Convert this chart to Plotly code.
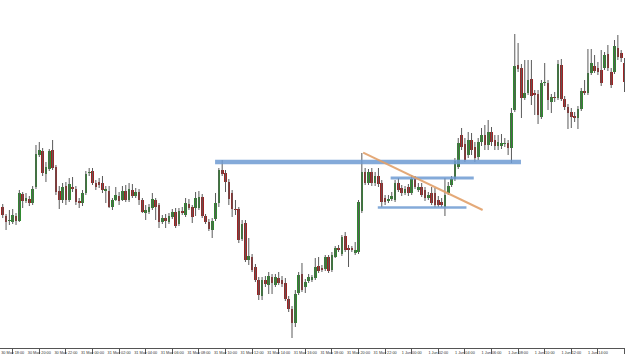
import plotly.graph_objects as go
import pandas as pd
import numpy as np

# M15 candles, first candle 30 May 17:15
opens = [1.3293,1.3284,1.3279,1.3278,1.3284,1.3279,1.3306,1.3299,1.3301,1.3297,1.3313,1.3345,1.3349,
 1.3326,1.3331,1.3350,1.3333,1.3309,1.3300,1.3314,1.3300,1.3313,1.3311,
 1.3299,1.3297,1.3307,1.3327,1.3329,1.3317,1.3318,1.3317,1.3309,1.3309,
 1.3293,1.3300,1.3304,1.3300,1.3309,1.3300,1.3310,1.3304,1.3308,1.3300,
 1.3287,1.3288,1.3292,1.3300,1.3295,1.3278,1.3282,1.3278,1.3283,1.3288,
 1.3276,1.3289,1.3285,1.3296,1.3293,1.3292,1.3292,1.3303,1.3284,1.3278,
 1.3270,1.3281,1.3297,1.3330,1.3327,1.3318,1.3307,1.3291,1.3291,1.3261,
 1.3277,1.3240,1.3243,1.3233,1.3220,1.3204,1.3220,1.3215,1.3223,1.3215,
 1.3222,1.3220,1.3217,1.3201,1.3191,1.3177,1.3207,1.3226,1.3213,1.3219,
 1.3220,1.3222,1.3234,1.3232,1.3231,1.3243,1.3230,1.3243,1.3252,1.3246,
 1.3264,1.3252,1.3252,1.3247,1.3248,1.3289,1.3328,1.3317,1.3328,1.3317,
 1.3324,1.3317,1.3302,1.3299,1.3301,1.3300,1.3317,1.3312,1.3307,1.3313,
 1.3307,1.3321,1.3310,1.3313,1.3310,1.3302,1.3307,1.3307,1.3300,1.3298,
 1.3293,1.3307,1.3315,1.3321,1.3333,1.3365,1.3356,1.3345,1.3360,1.3353,
 1.3343,1.3358,1.3365,1.3355,1.3368,1.3360,1.3354,1.3354,1.3356,1.3357,
 1.3352,1.3390,1.3435,1.3432,1.3402,1.3407,1.3421,1.3407,1.3406,1.3383,
 1.3417,1.3417,1.3398,1.3403,1.3402,1.3435,1.3401,1.3393,1.3388,1.3384,
 1.3382,1.3391,1.3409,1.3407,1.3427,1.3434,1.3432,1.3430,1.3432,1.3446,
 1.3428,1.3428,1.3452,1.3447,1.3437]

highs = [1.3296,1.3286,1.3290,1.3291,1.3287,1.3310,1.3308,1.3307,1.3304,1.3314,1.3355,1.3358,1.3352,
 1.3338,1.3351,1.3360,1.3335,1.3314,1.3317,1.3318,1.3322,1.3323,1.3314,
 1.3302,1.3310,1.3329,1.3332,1.3332,1.3320,1.3322,1.3324,1.3314,1.3314,
 1.3302,1.3313,1.3308,1.3314,1.3315,1.3317,1.3316,1.3312,1.3311,1.3302,
 1.3295,1.3296,1.3307,1.3302,1.3297,1.3285,1.3286,1.3287,1.3291,1.3292,
 1.3292,1.3293,1.3302,1.3301,1.3295,1.3308,1.3309,1.3306,1.3286,1.3281,
 1.3282,1.3307,1.3332,1.3340,1.3330,1.3321,1.3310,1.3300,1.3293,1.3280,
 1.3280,1.3262,1.3246,1.3236,1.3223,1.3223,1.3224,1.3228,1.3226,1.3226,
 1.3228,1.3224,1.3222,1.3204,1.3194,1.3210,1.3228,1.3237,1.3221,1.3226,
 1.3225,1.3242,1.3243,1.3235,1.3245,1.3245,1.3248,1.3254,1.3255,1.3265,
 1.3268,1.3255,1.3254,1.3258,1.3300,1.3347,1.3332,1.3331,1.3332,1.3328,
 1.3332,1.3320,1.3305,1.3305,1.3308,1.3320,1.3322,1.3315,1.3314,1.3316,
 1.3325,1.3324,1.3317,1.3317,1.3313,1.3308,1.3313,1.3312,1.3304,1.3302,
 1.3322,1.3318,1.3324,1.3342,1.3362,1.3372,1.3362,1.3368,1.3367,1.3358,
 1.3362,1.3372,1.3375,1.3380,1.3373,1.3365,1.3365,1.3366,1.3362,1.3360,
 1.3392,1.3466,1.3457,1.3436,1.3440,1.3440,1.3440,1.3410,1.3410,1.3420,
 1.3437,1.3420,1.3406,1.3408,1.3440,1.3441,1.3404,1.3396,1.3392,1.3388,
 1.3394,1.3412,1.3420,1.3451,1.3451,1.3445,1.3438,1.3450,1.3448,1.3455,
 1.3432,1.3460,1.3465,1.3450,1.3442]

lows = [1.3282,1.3270,1.3275,1.3276,1.3275,1.3278,1.3292,1.3297,1.3294,1.3295,1.3311,1.3343,1.3324,
 1.3318,1.3329,1.3330,1.3305,1.3291,1.3297,1.3295,1.3298,1.3308,1.3295,
 1.3292,1.3294,1.3305,1.3324,1.3315,1.3310,1.3312,1.3307,1.3297,1.3292,
 1.3290,1.3299,1.3295,1.3299,1.3298,1.3298,1.3302,1.3302,1.3295,1.3287,
 1.3280,1.3286,1.3290,1.3280,1.3272,1.3276,1.3272,1.3276,1.3281,1.3272,
 1.3274,1.3285,1.3283,1.3290,1.3277,1.3284,1.3290,1.3282,1.3276,1.3269,
 1.3262,1.3279,1.3293,1.3324,1.3308,1.3295,1.3283,1.3285,1.3257,1.3259,
 1.3238,1.3235,1.3228,1.3218,1.3200,1.3200,1.3213,1.3206,1.3206,1.3213,
 1.3215,1.3213,1.3199,1.3188,1.3162,1.3173,1.3205,1.3208,1.3207,1.3217,
 1.3218,1.3220,1.3227,1.3228,1.3229,1.3227,1.3228,1.3242,1.3248,1.3244,
 1.3248,1.3233,1.3248,1.3245,1.3246,1.3287,1.3315,1.3315,1.3314,1.3314,
 1.3313,1.3293,1.3295,1.3297,1.3299,1.3298,1.3308,1.3304,1.3305,1.3304,
 1.3305,1.3311,1.3308,1.3303,1.3299,1.3300,1.3295,1.3293,1.3293,1.3293,
 1.3284,1.3305,1.3313,1.3319,1.3331,1.3350,1.3338,1.3342,1.3345,1.3338,
 1.3340,1.3354,1.3350,1.3350,1.3354,1.3350,1.3350,1.3351,1.3353,1.3345,
 1.3337,1.3388,1.3428,1.3382,1.3400,1.3405,1.3395,1.3385,1.3376,1.3381,
 1.3414,1.3390,1.3387,1.3398,1.3400,1.3399,1.3390,1.3371,1.3372,1.3378,
 1.3371,1.3389,1.3405,1.3405,1.3425,1.3427,1.3425,1.3414,1.3430,1.3429,
 1.3412,1.3426,1.3440,1.3438,1.3408]

closes = [1.3285,1.3278,1.3280,1.3285,1.3279,1.3307,1.3299,1.3302,1.3297,1.3311,1.3346,1.3350,1.3327,
 1.3333,1.3349,1.3332,1.3308,1.3300,1.3313,1.3300,1.3316,1.3311,1.3298,
 1.3297,1.3307,1.3326,1.3328,1.3317,1.3313,1.3315,1.3310,1.3311,1.3293,
 1.3300,1.3305,1.3299,1.3309,1.3300,1.3311,1.3304,1.3308,1.3300,1.3288,
 1.3290,1.3293,1.3301,1.3293,1.3278,1.3282,1.3279,1.3284,1.3288,1.3274,
 1.3289,1.3287,1.3297,1.3292,1.3283,1.3302,1.3303,1.3284,1.3278,1.3271,
 1.3279,1.3297,1.3330,1.3326,1.3318,1.3301,1.3291,1.3290,1.3260,1.3276,
 1.3240,1.3244,1.3230,1.3220,1.3205,1.3220,1.3216,1.3224,1.3217,1.3223,
 1.3217,1.3216,1.3201,1.3191,1.3177,1.3206,1.3225,1.3210,1.3218,1.3223,
 1.3223,1.3233,1.3229,1.3230,1.3243,1.3229,1.3245,1.3252,1.3250,1.3263,
 1.3250,1.3250,1.3250,1.3250,1.3298,1.3328,1.3317,1.3328,1.3317,1.3324,
 1.3316,1.3298,1.3298,1.3301,1.3304,1.3317,1.3310,1.3307,1.3311,1.3307,
 1.3321,1.3313,1.3313,1.3305,1.3302,1.3305,1.3297,1.3295,1.3295,1.3295,
 1.3305,1.3314,1.3321,1.3339,1.3357,1.3353,1.3340,1.3360,1.3350,1.3342,
 1.3358,1.3365,1.3355,1.3368,1.3358,1.3354,1.3358,1.3357,1.3356,1.3352,
 1.3387,1.3434,1.3431,1.3402,1.3407,1.3420,1.3404,1.3405,1.3385,1.3417,
 1.3418,1.3400,1.3403,1.3402,1.3436,1.3401,1.3393,1.3387,1.3383,1.3382,
 1.3391,1.3409,1.3407,1.3427,1.3437,1.3429,1.3428,1.3417,1.3445,1.3432,
 1.3415,1.3454,1.3443,1.3442,1.3418]

# drawn objects on the chart (time, price)
hline_prices = [1.3338, 1.3322, 1.32925]
hline_starts = ["2017-05-31 09:13", "2017-05-31 22:25", "2017-05-31 21:27"]
hline_ends = ["2017-06-01 08:13", "2017-06-01 04:40", "2017-06-01 04:07"]
hline_widths = [4.5, 3, 2.5]
trend_times = ["2017-05-31 20:21", "2017-06-01 05:20"]
trend_prices = [1.33473, 1.3290]

start = pd.Timestamp("2017-05-30 17:15")
step = pd.Timedelta(minutes=15)
times = pd.date_range(start, periods=len(opens), freq="15min")

o = np.array(opens); c = np.array(closes); h = np.array(highs); l = np.array(lows)
up = c >= o

fig = go.Figure()

# wicks
wx, wy = [], []
for t, hi, lo in zip(times, highs, lows):
    wx += [t, t, None]
    wy += [lo, hi, None]
fig.add_trace(go.Scatter(x=wx, y=wy, mode="lines", line=dict(color="#5a5a5a", width=1),
                         hoverinfo="skip", showlegend=False))

# bodies
base = np.minimum(o, c)
height = np.maximum(np.abs(c - o), 0.00008)
colors = np.where(up, "#2f8a2f", "#9e2424")
fig.add_trace(go.Bar(x=times, y=height, base=base, width=[step.total_seconds() * 1000 * 0.8] * len(times),
                     marker=dict(color=list(colors), line=dict(width=0)), showlegend=False,
                     customdata=np.stack([o, h, l, c], axis=1)))

shapes = []
for p, s, e, w in zip(hline_prices, hline_starts, hline_ends, hline_widths):
    shapes.append(dict(type="line", xref="x", yref="y", x0=s, x1=e, y0=p, y1=p,
                       line=dict(color="rgba(110,155,210,0.85)", width=w), layer="above"))
shapes.append(dict(type="line", xref="x", yref="y", x0=trend_times[0], x1=trend_times[1],
                   y0=trend_prices[0], y1=trend_prices[1],
                   line=dict(color="rgba(225,160,105,0.9)", width=2), layer="above"))

t_ref = pd.Timestamp("2017-05-30 18:00")
x0 = t_ref + step * (-3.82)
x1 = t_ref + step * 184.15

fig.update_layout(width=625, height=354, margin=dict(l=0, r=0, t=0, b=6),
                  paper_bgcolor="white", plot_bgcolor="white", showlegend=False,
                  shapes=shapes, bargap=0)
fig.update_xaxes(type="date", range=[x0, x1], showgrid=False, zeroline=False,
                 showline=True, linecolor="#555555", linewidth=1,
                 ticks="outside", ticklen=6, tickcolor="#555555", tickwidth=1,
                 tick0="2017-05-30 16:00", dtick=2 * 3600 * 1000,
                 tickformat="%-d %b %H:%M", ticklabelmode="period", tickangle=0,
                 ticklabelstandoff=-6,
                 tickfont=dict(family="Liberation Sans", size=3.8, color="#333333"),
                 automargin=False)
fig.update_yaxes(range=[1.3152, 1.3500], visible=False, showgrid=False)

fig.write_html("out.html")
